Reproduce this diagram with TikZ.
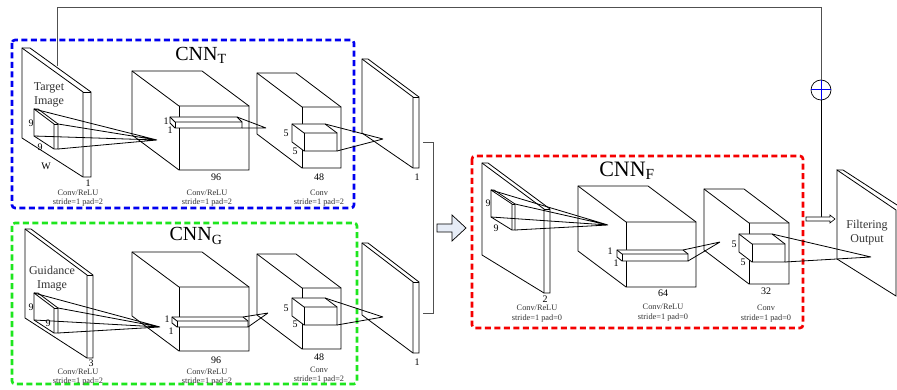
\documentclass[tikz,border=0pt]{standalone}
\usepackage{fontspec}
\setmainfont{Liberation Serif}
\newcommand{\slabplane}[8]{% x1 y1 x2 y2 y3 y4 t name
  \filldraw[fill=white] (#1,#2) -- ({#1+#7},#2) -- ({#3+#7},#4) -- ({#3+#7},#5) -- (#3,#5) -- (#1,#6) -- cycle;
  \draw (#1,#2) -- (#3,#4) -- (#3,#5); \draw (#3,#4) -- ({#3+#7},#4);
  \coordinate (#8-tl) at (#1,#2); \coordinate (#8-tr) at ({#3+#7},#4);
  \coordinate (#8-bl) at (#1,#6); \coordinate (#8-br) at ({#3+#7},#5);
}
\newcommand{\cubeblock}[7]{% x y w h dx dy name
  \filldraw[fill=white] (#1,#2) -- ({#1+#3},#2) -- ({#1+#3+#5},{#2+#6}) -- ({#1+#3+#5},{#2+#4+#6}) -- ({#1+#5},{#2+#4+#6}) -- (#1,{#2+#4}) -- cycle;
  \draw (#1,#2) -- ({#1+#5},{#2+#6}) -- ({#1+#3+#5},{#2+#6}); \draw ({#1+#5},{#2+#6}) -- ({#1+#5},{#2+#4+#6});
  \coordinate (#7-btr) at ({#1+#3},#2); \coordinate (#7-fbr) at ({#1+#3+#5},{#2+#4+#6});
}
\definecolor{dblue}{RGB}{0,0,240}
\definecolor{dgreen}{RGB}{30,230,30}
\definecolor{dred}{RGB}{245,0,0}
\definecolor{linkgray}{RGB}{80,80,80}
\definecolor{arrfill}{RGB}{230,236,246}
\begin{document}
\begin{tikzpicture}[x=1pt,y=-1pt,line width=0.8pt,
  groupbox/.style={line width=2.6pt,dash pattern=on 6pt off 3.5pt,rounded corners=3pt},
  lbl/.style={inner sep=0pt,font=\fontsize{10}{10}\selectfont},
  sml/.style={inner sep=0pt,font=\fontsize{8.3}{8.3}\selectfont,text=black!80},
  img/.style={inner sep=0pt,font=\fontsize{12}{14}\selectfont,align=center,text=black!80},
  ttl/.style={inner sep=0pt,font=\fontsize{20}{20}\selectfont}]
\useasboundingbox (0,0) rectangle (897,390);
\fill[white] (0,0) rectangle (897,390);

% ---------------- group boxes
\draw[groupbox,dblue] (12,40) rectangle (354,208);
\draw[groupbox,dgreen] (12,223) rectangle (357,384);
\draw[groupbox,dred] (472,156) rectangle (803,328);

% ---------------- CNN_T
\node[ttl] (tT) at (201,55) {CNN\textsubscript{T}};
\slabplane{22}{48}{83}{92}{177}{138}{8}{tin}
\slabplane{34}{109}{54}{124}{149}{136}{4}{tk}
\cubeblock{132}{71}{70}{64}{47}{35}{tb2}
\cubeblock{170}{117}{67}{6}{5}{5}{tbar}
\cubeblock{257}{73}{39}{61}{45}{34}{tb3}
\cubeblock{292}{124}{33}{18}{12}{9}{tk5}
\slabplane{362}{59}{413}{97}{168}{133}{6}{tout}
\coordinate (tapA) at (157,140);
\coordinate (tapB) at (266,128);
\coordinate (tapC) at (383,139);
\draw (tk-tl) -- (tapA) (tk-tr) -- (tapA) (tk-bl) -- (tapA) (tk-br) -- (tapA);
\draw (tbar-btr) -- (tapB) (tbar-fbr) -- (tapB);
\draw (tk5-btr) -- (tapC) (tk5-fbr) -- (tapC);
\node[img] (tImg) at (49,95) {Target\\Image};
\node[lbl] (t9a) at (31,123) {9};
\node[lbl] (t9b) at (40,147) {9};
\node[lbl] (tW) at (46,166) {W};
\node[lbl] (t1) at (88,183) {1};
\node[sml] (tc1) at (78,193) {Conv/ReLU};
\node[sml] (ts1) at (78,203) {stride=1 pad=2};
\node[lbl] (t1a) at (166,121) {1};
\node[lbl] (t1b) at (170,130) {1};
\node[lbl] (t96) at (216,177) {96};
\node[sml] (tc2) at (207,193) {Conv/ReLU};
\node[sml] (ts2) at (207,203) {stride=1 pad=2};
\node[lbl] (t5a) at (286,133) {5};
\node[lbl] (t5b) at (295,151) {5};
\node[lbl] (t48) at (319,177) {48};
\node[sml] (tc3) at (319,193) {Conv};
\node[sml] (ts3) at (319,203) {stride=1 pad=2};
\node[lbl] (tone) at (417,177) {1};

% ---------------- CNN_G
\node[ttl] (tG) at (196,236) {CNN\textsubscript{G}};
\slabplane{25}{229}{87}{275}{358}{318}{6}{gin}
\slabplane{34}{293}{54}{308}{333}{320}{4}{gk}
\cubeblock{132}{252}{70}{64}{47}{35}{gb2}
\cubeblock{172}{317}{71}{6}{5}{4}{gbar}
\cubeblock{257}{254}{39}{61}{45}{34}{gb3}
\cubeblock{292}{298}{33}{18}{12}{9}{gk5}
\slabplane{362}{243}{413}{282}{353}{315}{6}{gout}
\coordinate (gapA) at (160,327);
\coordinate (gapB) at (268,313);
\coordinate (gapC) at (383,317);
\draw (gk-tl) -- (gapA) (gk-tr) -- (gapA) (gk-bl) -- (gapA) (gk-br) -- (gapA);
\draw (gbar-btr) -- (gapB) (gbar-fbr) -- (gapB);
\draw (gk5-btr) -- (gapC) (gk5-fbr) -- (gapC);
\node[img] (gImg) at (52,279) {Guidance\\Image};
\node[lbl] (g9a) at (31,307) {9};
\node[lbl] (g9b) at (48,323) {9};
\node[lbl] (g3) at (91,363) {3};
\node[sml] (gc1) at (78,372) {Conv/ReLU};
\node[sml] (gs1) at (78,382) {stride=1 pad=2};
\node[lbl] (g1a) at (167,319) {1};
\node[lbl] (g1b) at (171,331) {1};
\node[lbl] (g96) at (216,360) {96};
\node[sml] (gc2) at (207,372) {Conv/ReLU};
\node[sml] (gs2) at (207,382) {stride=1 pad=2};
\node[lbl] (g5a) at (286,308) {5};
\node[lbl] (g5b) at (295,324) {5};
\node[lbl] (g48) at (319,357) {48};
\node[sml] (gc3) at (319,370) {Conv};
\node[sml] (gs3) at (319,380) {stride=1 pad=2};
\node[lbl] (gone) at (417,362) {1};

% ---------------- bracket and merge arrow
\coordinate (brA) at (423,142);
\coordinate (brB) at (433,142);
\coordinate (brC) at (433,313);
\coordinate (brD) at (423,313);
\draw[linkgray] (brA) -- (brB) -- (brC) -- (brD);
\filldraw[fill=arrfill,line width=0.7pt] (437,224) -- (452,224) -- (452,215) -- (466,228) -- (452,241) -- (452,232) -- (437,232) -- cycle;

% ---------------- CNN_F
\node[ttl,font=\fontsize{22}{22}\selectfont] (tF) at (627,171) {CNN\textsubscript{F}};
\slabplane{482}{163}{544}{209}{293}{255}{6}{fin}
\slabplane{491}{190}{512}{204}{230}{217}{3}{fk}
\cubeblock{578}{186}{70}{65}{48}{36}{fb2}
\cubeblock{617}{250}{66}{7}{5}{4}{fbar}
\cubeblock{704}{189}{40}{61}{45}{34}{fb3}
\cubeblock{739}{234}{33}{18}{13}{10}{fk5}
\coordinate (fapA) at (608,225);
\coordinate (fapB) at (720,242);
\coordinate (fapC) at (871,257);
\node[lbl] (f9a) at (488,203) {9};
\node[lbl] (f9b) at (496,228) {9};
\node[lbl] (f2) at (545,299) {2};
\node[sml] (fc1) at (537,308) {Conv/ReLU};
\node[sml] (fs1) at (537,319) {stride=1 pad=0};
\node[lbl] (f1a) at (610,251) {1};
\node[lbl] (f1b) at (616,263) {1};
\node[lbl] (f64) at (663,293) {64};
\node[sml] (fc2) at (663,307) {Conv/ReLU};
\node[sml] (fs2) at (663,318) {stride=1 pad=0};
\node[lbl] (f5a) at (734,244) {5};
\node[lbl] (f5b) at (743,262) {5};
\node[lbl] (f32) at (766,291) {32};
\node[sml] (fc3) at (766,308) {Conv};
\node[sml] (fs3) at (766,319) {stride=1 pad=0};

% ---------------- output plane (cut by the picture edge)
\fill[white] (837,170) -- (843,170) -- (897,205) -- (897,296) -- (837,259) -- cycle;
\draw (896,210) -- (837,170) -- (837,259) -- (896,296) -- cycle;
\draw (837,170) -- (843,170) -- (897,205);
\node[img] (oTxt) at (867,233) {Filtering\\Output};
\draw (fk-tl) -- (fapA) (fk-tr) -- (fapA) (fk-bl) -- (fapA) (fk-br) -- (fapA);
\draw (fbar-btr) -- (fapB) (fbar-fbr) -- (fapB);
\draw (fk5-btr) -- (fapC) (fk5-fbr) -- (fapC);

% ---------------- skip connection
\coordinate (fb0) at (57,66);
\coordinate (fb1) at (57,7);
\coordinate (fb2) at (821,7);
\node[circle,draw,minimum size=20pt,inner sep=0pt,line width=0.7pt] (sum) at (821,90) {};
\draw[dblue,line width=1pt] (sum.north) -- (sum.south) (sum.west) -- (sum.east);
\draw[linkgray] (fb0) -- (fb1) -- (fb2) -- (sum.north);
\coordinate (arrJ) at (821,218);
\draw (sum.south) -- (arrJ);
\filldraw[fill=white,line width=0.6pt] (806,217) -- (830,217) -- (830,215) -- (835,219) -- (830,223) -- (830,221) -- (806,221) -- cycle;
\end{tikzpicture}
\end{document}
